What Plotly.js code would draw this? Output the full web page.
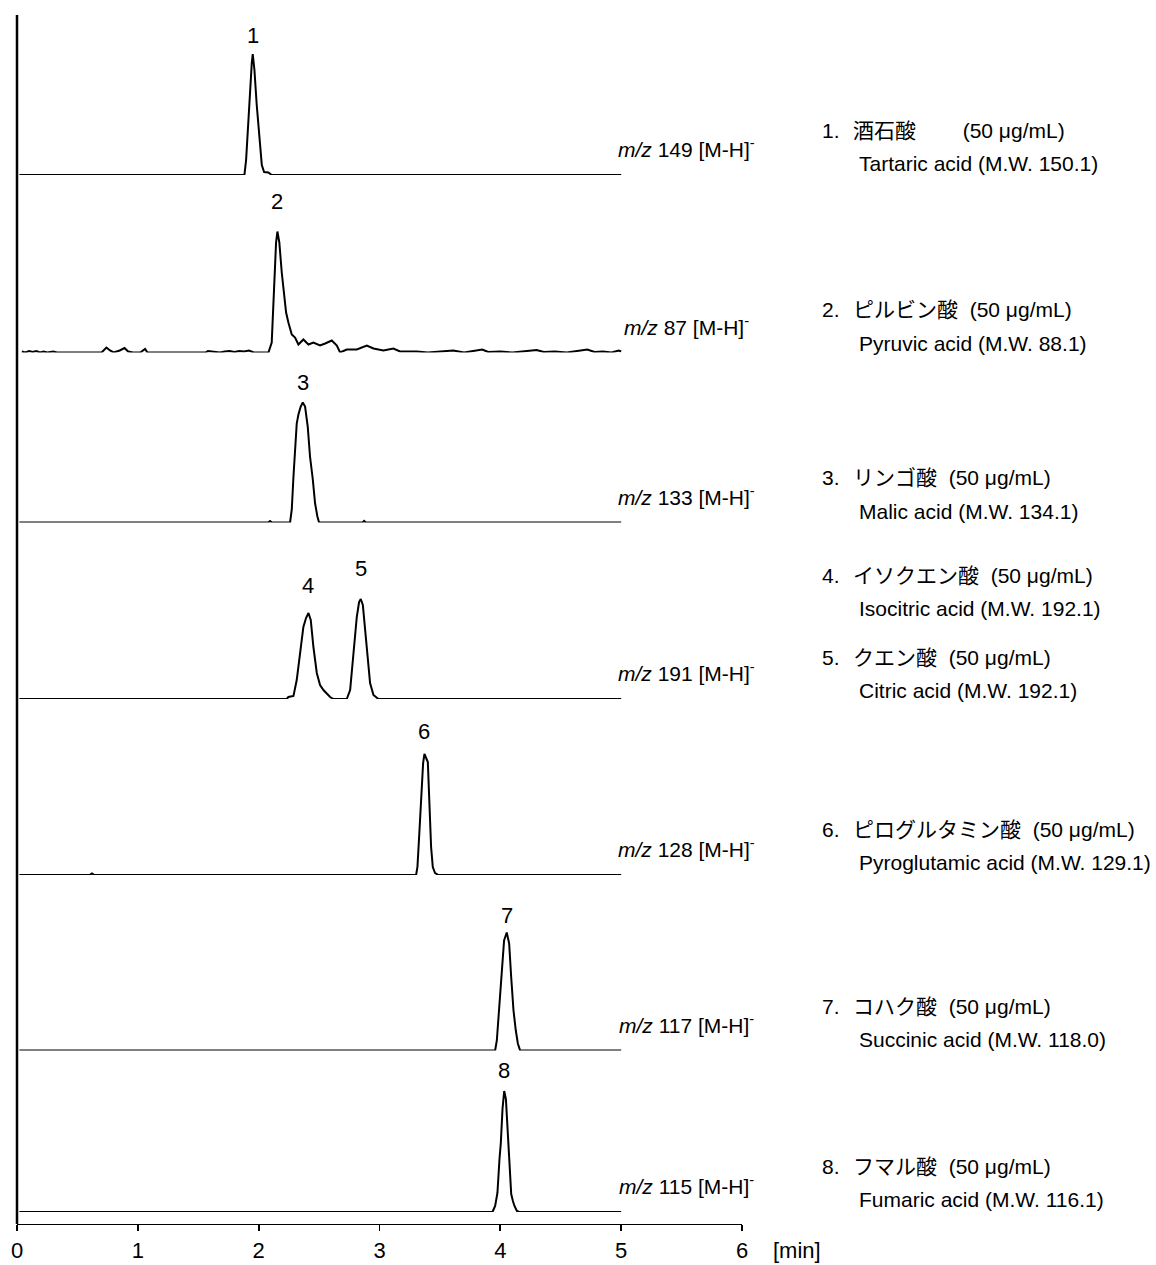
<!DOCTYPE html>
<html>
<head>
<meta charset="utf-8">
<script src="https://cdn.plot.ly/plotly-3.0.1.min.js"></script>
<style>html,body{margin:0;padding:0;background:#fff;}#chart{width:1156px;height:1265px;}</style>
</head>
<body>
<div id="chart"></div>
<script>
// ---------------- data ----------------
const mzValues = ['149', '87', '133', '191', '128', '117', '115'];

const jpNames = ['酒石酸', 'ピルビン酸', 'リンゴ酸', 'イソクエン酸', 'クエン酸', 'ピログルタミン酸', 'コハク酸', 'フマル酸'];
const enNames = ['Tartaric acid', 'Pyruvic acid', 'Malic acid', 'Isocitric acid', 'Citric acid', 'Pyroglutamic acid', 'Succinic acid', 'Fumaric acid'];
const molWeights = ['150.1', '88.1', '134.1', '192.1', '192.1', '129.1', '118.0', '116.1'];
const concentration = '50 μg/mL';

// peak retention times (min) for labels 1..8 and the trace each one belongs to
const peakTimes = [1.951, 2.155, 2.365, 2.412, 2.845, 3.372, 4.053, 4.032];
const peakTrace = [0, 1, 2, 3, 3, 4, 5, 6];

// trace 1: m/z 149
const t1 = [0.02, 1.882, 1.896, 1.915, 1.929, 1.943, 1.951, 1.965, 1.984, 1.998, 2.012, 2.026, 2.045, 2.080, 2.108, 5.0];
const y1 = [0, 0, 15, 55, 88, 112, 121, 105, 70, 50, 25, 10, 3, 2.5, 0, 0];

// trace 2: m/z 87 (noisy baseline)
const t2 = [0.04, 0.07, 0.10, 0.13, 0.16, 0.19, 0.22, 0.25, 0.30, 0.33, 0.40, 0.50, 0.60, 0.70, 0.74, 0.77, 0.80, 0.85, 0.89, 0.92, 0.96, 1.02, 1.06, 1.08, 1.20, 1.40, 1.56, 1.58, 1.64, 1.68, 1.72, 1.76, 1.80, 1.84, 1.88, 1.92, 1.96, 2.00, 2.081,
  2.108, 2.127, 2.144, 2.155, 2.171, 2.191, 2.205, 2.227, 2.246, 2.274, 2.301, 2.329, 2.370, 2.412, 2.453, 2.508, 2.550, 2.605, 2.647, 2.674,
  2.729, 2.812, 2.895, 2.950, 3.032, 3.115, 3.170, 3.309, 3.40, 3.50, 3.61, 3.70, 3.80, 3.85, 3.90, 4.00, 4.10, 4.20, 4.30, 4.36, 4.45, 4.55, 4.65, 4.72, 4.78, 4.85, 4.92, 4.98, 5.0];
const y2 = [1, 0, 1.5, 0.5, 1.5, 0, 1, 0, 1, 0, 0, 0, 0, 0, 5, 2, 0, 2, 4.5, 1, 0, 0, 3.5, 0, 0, 0, 0, 1.5, 1, 0, 1, 1.5, 0.5, 1.5, 1, 2, 0, 0, 0,
  10, 73, 110, 121, 110, 80, 63, 40, 30, 18, 15, 8, 13, 8, 10, 7, 9, 12, 7, 0,
  3, 3, 7, 4, 2, 4, 1, 1, 0, 1, 2, 0, 1.5, 3, 0.5, 1, 0, 1, 2.5, 0.5, 1, 0, 1.5, 3, 0.5, 1, 0, 2, 1];

// trace 3: m/z 133
const t3 = [0.02, 2.08, 2.094, 2.11, 2.26, 2.274, 2.288, 2.301, 2.315, 2.329, 2.348, 2.365, 2.384, 2.406, 2.425, 2.448, 2.467, 2.486, 2.50, 2.86, 2.873, 2.886, 5.0];
const y3 = [0, 0, 1.5, 0, 0, 13, 46, 76, 99, 108, 116, 120, 116, 96, 66, 43, 19, 6, 0, 0, 1.5, 0, 0];

// trace 4: m/z 191 (isocitric + citric)
const t4 = [0.02, 2.232, 2.246, 2.288, 2.315, 2.343, 2.370, 2.392, 2.412, 2.431, 2.453, 2.481, 2.508, 2.536, 2.564, 2.591, 2.619,
  2.729, 2.757, 2.784, 2.812, 2.831, 2.845, 2.862, 2.881, 2.900, 2.922, 2.950, 2.991, 5.0];
const y4 = [0, 0, 2, 3, 19, 49, 72, 81, 86, 79, 52, 26, 14, 9, 5, 2, 0,
  0, 9, 42, 82, 97, 100, 94, 69, 39, 16, 4, 0, 0];

// trace 5: m/z 128
const t5 = [0.02, 0.60, 0.62, 0.64, 3.303, 3.314, 3.331, 3.347, 3.361, 3.372, 3.386, 3.400, 3.413, 3.427, 3.441, 3.460, 3.488, 5.0];
const y5 = [0, 0, 1.5, 0, 0, 8, 45, 82, 112, 121, 117, 113, 72, 28, 8, 2, 0, 0];

// trace 6: m/z 117
const t6 = [0.02, 3.957, 3.971, 3.993, 4.012, 4.031, 4.053, 4.073, 4.090, 4.109, 4.128, 4.145, 4.164, 5.0];
const y6 = [0, 0, 10, 50, 83, 110, 118, 107, 73, 40, 20, 7, 0, 0];

// trace 7: m/z 115
const t7 = [0.02, 3.935, 3.957, 3.976, 3.993, 4.004, 4.018, 4.032, 4.046, 4.060, 4.076, 4.090, 4.104, 4.117, 4.137, 4.157, 5.0];
const y7 = [0, 0, 6, 19, 53, 69, 103, 121, 113, 79, 43, 18, 11, 6, 1, 0, 0];

const xTicks = [0, 1, 2, 3, 4, 5, 6];
const xTickText = ['0', '1', '2', '3', '4', '5', '6'];

const times = [t1, t2, t3, t4, t5, t6, t7];
const values = [y1, y2, y3, y4, y5, y6, y7];

// ---------------- layout (positions in px) ----------------
const W = 1156, H = 1265;
const padL = 17, padT = 15, axisPx = 1224;
const plotH = axisPx - padT;
const xPxPerMin = 120.83;
const plotW = xPxPerMin * 6;
const baselinePx = [175, 352.5, 522.5, 699, 875, 1050.5, 1212];
const yUnitsPerPanel = 160;
const fontFam = 'Liberation Sans, Arial, Noto Sans CJK JP, sans-serif';

const py = p => (axisPx - p) / plotH;          // px -> paper y
const pxX = p => (p - padL) / plotW;            // px -> paper x

const traces = times.map((t, k) => ({
  x: t, y: values[k], type: 'scatter', mode: 'lines',
  xaxis: 'x', yaxis: k === 0 ? 'y' : 'y' + (k + 1),
  line: { color: '#000', width: 2 }, hoverinfo: 'skip', showlegend: false
}));

const layout = {
  width: W, height: H,
  margin: { l: padL, r: W - padL - plotW, t: padT, b: H - axisPx, pad: 0 },
  paper_bgcolor: '#fff', plot_bgcolor: '#fff',
  showlegend: false,
  font: { family: fontFam, color: '#000' },
  xaxis: {
    range: [0, 6], anchor: 'free', position: 0,
    showline: true, linecolor: '#000', linewidth: 1.3,
    ticks: 'outside', ticklen: 6, tickwidth: 1.8, tickcolor: '#000',
    tickvals: xTicks, ticktext: xTickText,
    tickfont: { size: 22, family: fontFam, color: '#000' },
    showgrid: false, zeroline: false, fixedrange: true
  },
  shapes: [{
    type: 'line', xref: 'paper', yref: 'paper', x0: 0, x1: 0, y0: 0, y1: 1,
    line: { color: '#000', width: 2.5 }
  }],
  annotations: []
};

baselinePx.forEach((b, k) => {
  const key = k === 0 ? 'yaxis' : 'yaxis' + (k + 1);
  layout[key] = {
    domain: [py(b), py(b - yUnitsPerPanel)], range: [0, yUnitsPerPanel],
    anchor: 'x', visible: false, fixedrange: true
  };
});

// peak number labels
const peakLabelOffset = [19, 30, 20, 28, 31, 23, 17, 21];
peakTimes.forEach((pt, i) => {
  const k = peakTrace[i];
  const t = times[k], v = values[k];
  let best = 0;
  t.forEach((tt, j) => { if (Math.abs(tt - pt) < 0.06 && v[j] > best) best = v[j]; });
  layout.annotations.push({
    xref: 'x', yref: k === 0 ? 'y' : 'y' + (k + 1),
    x: pt, y: best + peakLabelOffset[i], text: String(i + 1),
    showarrow: false, xanchor: 'center', yanchor: 'middle',
    font: { size: 22, family: fontFam, color: '#000' }
  });
});

// m/z labels
const mzCenterPx = 686, mzAbovePx = 27;
mzValues.forEach((mz, k) => {
  layout.annotations.push({
    xref: 'paper', yref: 'paper',
    x: pxX(mzCenterPx), y: py(baselinePx[k] - mzAbovePx),
    text: '<i>m/z</i> ' + mz + ' [M-H]<sup>-</sup>',
    showarrow: false, xanchor: 'center', yanchor: 'middle',
    font: { size: 21, family: fontFam, color: '#000' }
  });
});

// compound list on the right
const listLinePx = [[130, 163], [310, 343], [478, 511], [575, 608], [657, 690], [829, 862], [1006, 1039], [1166, 1199]];
const concGap = [8, 2, 2, 2, 2, 2, 2, 2];   // non-breaking spaces before the concentration
const numPx = 820, jpPx = 851, enPx = 857;
jpNames.forEach((jp, i) => {
  const [l1, l2] = listLinePx[i];
  layout.annotations.push({
    xref: 'paper', yref: 'paper', x: pxX(numPx), y: py(l1),
    text: (i + 1) + '.', showarrow: false, xanchor: 'left', yanchor: 'middle',
    font: { size: 21, family: fontFam, color: '#000' }
  });
  layout.annotations.push({
    xref: 'paper', yref: 'paper', x: pxX(jpPx), y: py(l1),
    text: jp + '\u00a0'.repeat(concGap[i]) + '(' + concentration + ')', showarrow: false, xanchor: 'left', yanchor: 'middle',
    font: { size: 21, family: fontFam, color: '#000' }
  });
  layout.annotations.push({
    xref: 'paper', yref: 'paper', x: pxX(enPx), y: py(l2),
    text: enNames[i] + ' (M.W. ' + molWeights[i] + ')', showarrow: false, xanchor: 'left', yanchor: 'middle',
    font: { size: 21, family: fontFam, color: '#000' }
  });
});

// axis unit
layout.annotations.push({
  xref: 'paper', yref: 'paper', x: pxX(797), y: py(1250),
  text: '[min]', showarrow: false, xanchor: 'center', yanchor: 'middle',
  font: { size: 22, family: fontFam, color: '#000' }
});

Plotly.newPlot('chart', traces, layout, { staticPlot: true, displayModeBar: false });
</script>
</body>
</html>
